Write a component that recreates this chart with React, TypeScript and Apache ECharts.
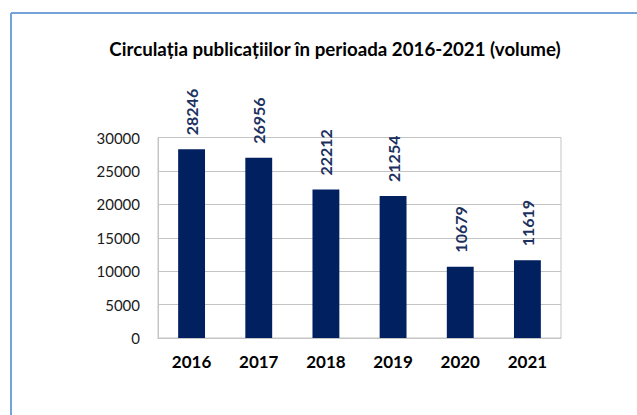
import React, { useEffect, useRef } from "react";
import * as echarts from "echarts";

const categories = ["2016", "2017", "2018", "2019", "2020", "2021"];
const values = [28246, 26956, 22212, 21254, 10679, 11619];
const titleText = "Circulația publicațiilor în perioada 2016-2021 (volume)";
const yMin = 0;
const yMax = 30000;
const yInterval = 5000;

export default function App() {
  const ref = useRef<HTMLDivElement>(null);
  useEffect(() => {
    if (!ref.current) return;
    const chart = echarts.init(ref.current, undefined, { renderer: "svg" });
    chart.setOption({
      animation: false,
      backgroundColor: "#ffffff",
      title: {
        text: titleText,
        left: 330,
        textAlign: "center",
        top: 34,
        textStyle: { fontFamily: "Lato", fontWeight: "bold", fontSize: 18.7, color: "#000000" },
      },
      graphic: [
        { type: "line", shape: { x1: 11, y1: 13, x2: 637, y2: 13 }, style: { stroke: "#74a3dc", lineWidth: 2 } },
        { type: "line", shape: { x1: 11, y1: 13, x2: 11, y2: 415 }, style: { stroke: "#74a3dc", lineWidth: 2 } },
      ],
      grid: {
        left: 158,
        right: 76,
        top: 137.5,
        bottom: 77,
        show: true,
        borderColor: "#c4c4c4",
        borderWidth: 1,
      },
      xAxis: {
        type: "category",
        data: categories,
        axisLine: { show: true, lineStyle: { color: "#c4c4c4" } },
        axisTick: { show: false },
        axisLabel: { fontFamily: "Lato", fontWeight: "bold", fontSize: 17, color: "#000000", margin: 15 },
      },
      yAxis: {
        type: "value",
        min: yMin,
        max: yMax,
        interval: yInterval,
        axisLine: { show: true, lineStyle: { color: "#c4c4c4" } },
        axisTick: { show: false },
        splitLine: { show: true, lineStyle: { color: "#c4c4c4", width: 1 } },
        axisLabel: {
          fontFamily: "Lato",
          fontSize: 15,
          color: "#1a1a1a",
          margin: 18,
          formatter: (v: number) => String(v),
        },
      },
      series: [
        {
          type: "bar",
          data: values,
          barWidth: "40%",
          itemStyle: { color: "#002060" },
          label: {
            show: true,
            position: "top",
            rotate: 90,
            align: "left",
            verticalAlign: "middle",
            distance: 14,
            fontFamily: "Lato",
            fontWeight: "bold",
            fontSize: 16,
            color: "#1c3060",
          },
        },
      ],
    });
    return () => chart.dispose();
  }, []);
  return <div ref={ref} style={{ position: "fixed", left: 0, top: 0, width: 637, height: 415 }} />;
}
